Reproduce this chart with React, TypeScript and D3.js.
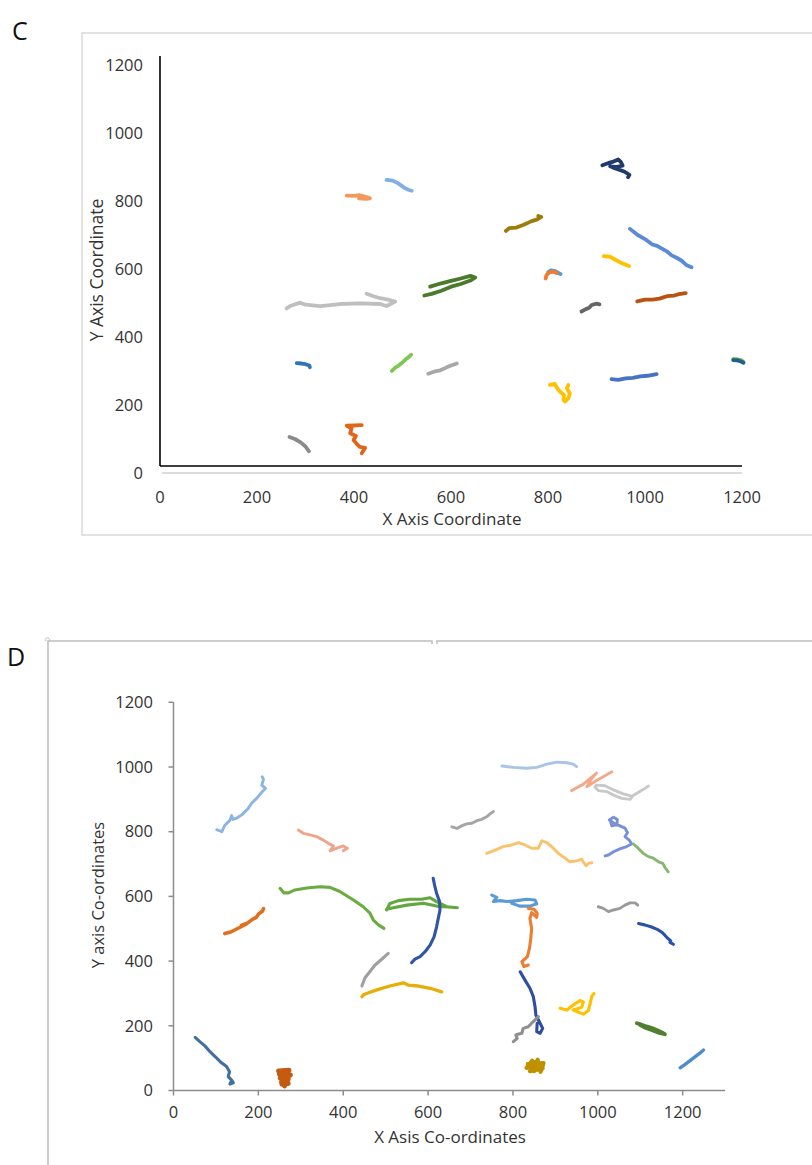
import React from "react";
import * as d3 from "d3";

type P = [number, number];

// ---------- Panel C data ----------
const cTicks = [0, 200, 400, 600, 800, 1000, 1200];
const cGrayBL: P[] = [[267,106],[278,100],[290,90],[300,78],[307,64]];
const cOrangeS: P[] = [[416,141],[385,139],[395,131],[392,117],[404,109],[399,97],[406,85],[412,77],[423,74],[416,58]];
const cBlueSmall: P[] = [[282,323],[292,322],[300,320],[308,316],[309,311]];
const cLightGreen: P[] = [[478,300],[485,310],[492,316],[500,325],[507,335],[512,340],[518,348]];
const cLightGrayLong: P[] = [[261,484],[270,492],[289,501],[300,495],[330,491],[371,497],[412,499],[454,497],[467,491],[485,504],[470,510],[454,514],[440,520],[426,527]];
const cOrangeTop: P[] = [[385,816],[400,815],[412,817],[422,813],[433,808],[425,806],[410,808]];
const cLightBlueTop: P[] = [[467,862],[480,860],[490,853],[497,846],[505,838],[512,833],[519,830]];
const cDarkGreen: P[] = [[545,522],[560,527],[580,536],[600,548],[620,556],[640,566],[650,575],[640,580],[620,572],[600,565],[580,558],[557,548]];
const cOlive: P[] = [[713,712],[720,720],[735,722],[750,730],[765,740],[778,746],[786,753],[780,756]];
const cBlueBit: P[] = [[800,590],[806,596],[815,594],[826,585]];
const cOrangeBit: P[] = [[818,588],[812,592],[803,590],[797,582],[795,572]];
const cDarkGray: P[] = [[869,475],[878,482],[885,486],[890,494],[900,498],[906,496]];
const cNavy: P[] = [[912,905],[925,912],[935,916],[945,922],[950,915],[954,904],[940,900],[928,902],[935,898],[945,893],[958,886],[968,877],[965,870]];
const cYellowA: P[] = [[915,638],[928,636],[938,628],[948,620],[958,614],[967,609]];
const cBlueWavy: P[] = [[969,718],[985,700],[1000,688],[1015,672],[1025,668],[1035,660],[1045,652],[1055,640],[1065,633],[1075,625],[1085,612],[1096,605]];
const cBrown: P[] = [[984,505],[1000,510],[1015,510],[1030,513],[1045,520],[1060,522],[1070,526],[1084,529]];
const cBlueLow: P[] = [[931,276],[945,274],[960,278],[975,280],[990,284],[1005,286],[1024,291]];
const cYellowV: P[] = [[804,259],[814,262],[819,249],[825,239],[833,229],[832,215],[835,210],[842,220],[845,234],[839,249],[842,259]];
const cGrayMid: P[] = [[553,292],[565,298],[578,302],[590,310],[600,316],[612,322]];
const cTealGreen: P[] = [[1182,335],[1190,334],[1198,331],[1203,327]];
const cTeal: P[] = [[1182,332],[1190,331],[1198,328],[1203,324]];

const panelC = [
  { pts: cGrayBL, color: "#8a8a8a" },
  { pts: cOrangeS, color: "#e2661a" },
  { pts: cBlueSmall, color: "#2e75b6" },
  { pts: cLightGreen, color: "#80c652" },
  { pts: cLightGrayLong, color: "#bfbfbf" },
  { pts: cOrangeTop, color: "#f29a5c" },
  { pts: cLightBlueTop, color: "#7fb0e0" },
  { pts: cDarkGreen, color: "#4a7a2b" },
  { pts: cOlive, color: "#9e7c0c" },
  { pts: cBlueBit, color: "#5b9bd5" },
  { pts: cOrangeBit, color: "#ed7d31" },
  { pts: cDarkGray, color: "#666666" },
  { pts: cNavy, color: "#203a6e" },
  { pts: cYellowA, color: "#ffc000" },
  { pts: cBlueWavy, color: "#5b8bd8" },
  { pts: cBrown, color: "#b9530f" },
  { pts: cBlueLow, color: "#4472c4" },
  { pts: cYellowV, color: "#ffc000" },
  { pts: cGrayMid, color: "#a8a8a8" },
  { pts: cTealGreen, color: "#5fae3a" },
  { pts: cTeal, color: "#1f5f8f" },
];

// ---------- Panel D data ----------
const dTicks = [0, 200, 400, 600, 800, 1000, 1200];
const dLightBlueTL: P[] = [[102,806],[114,800],[121,820],[133,835],[137,850],[140,838],[150,843],[161,852],[176,872],[184,888],[196,903],[208,922],[217,934],[208,944],[212,962],[209,970]];
const dSalmonTL: P[] = [[294,805],[306,795],[322,790],[337,785],[353,774],[365,764],[377,756],[369,741],[385,749],[400,756],[410,749],[400,741]];
const dGreenArc: P[] = [[251,625],[260,611],[271,611],[286,620],[314,626],[345,630],[369,628],[392,615],[424,589],[447,568],[463,548],[471,527],[483,512],[496,501]];
const dOrangeL: P[] = [[121,485],[135,490],[150,500],[165,510],[172,515],[160,510],[175,518],[185,528],[195,535],[200,545],[210,555],[212,562]];
const dGreenLoop: P[] = [[502,558],[510,578],[530,587],[557,591],[585,591],[604,596],[620,584],[644,568],[669,565],[640,568],[628,568],[589,579],[550,573],[518,565],[502,560]];
const dBlueTall: P[] = [[612,656],[616,630],[620,610],[627,584],[628,558],[624,532],[620,506],[614,475],[605,450],[593,429],[581,414],[569,406],[561,395]];
const dGrayShort: P[] = [[506,424],[490,405],[475,388],[463,368],[451,348],[444,323]];
const dYellowArc: P[] = [[444,290],[448,296],[455,300],[479,311],[510,323],[542,333],[553,326],[577,323],[605,316],[632,305]];
const dBlueLoop: P[] = [[750,604],[762,597],[754,584],[770,587],[785,584],[809,587],[832,591],[852,589],[856,577],[840,570],[816,570],[797,579]];
const dOrangeVert: P[] = [[836,563],[850,560],[857,548],[856,535],[844,550],[840,532],[844,501],[842,470],[839,440],[834,414],[821,398],[826,383],[836,388]];
const dBlueVert2: P[] = [[817,367],[828,342],[840,316],[848,290],[852,259],[854,233],[864,208],[870,192],[864,177],[856,182],[857,208]];
const dGrayZig: P[] = [[801,151],[810,161],[807,172],[821,177],[824,192],[836,197],[844,208],[852,218],[860,228]];
const dGoldStar: P[] = [[832,70],[845,92],[850,60],[858,95],[865,58],[872,85],[835,82],[870,68],[840,60],[855,80],[845,70],[868,78],[850,88],[838,72]];
const dYellowTri: P[] = [[911,254],[927,249],[942,264],[958,278],[966,274],[962,257],[942,249],[966,236],[978,247],[982,270],[986,292],[991,300]];
const dDarkGreenBlob: P[] = [[1092,208],[1100,205],[1110,200],[1120,196],[1130,192],[1140,186],[1150,180],[1158,174],[1145,178],[1125,188],[1110,195],[1098,204]];
const dBlueBR: P[] = [[1194,70],[1205,80],[1215,90],[1225,100],[1235,110],[1243,118],[1249,125]];
const dBlueUR: P[] = [[1096,516],[1110,512],[1125,506],[1140,498],[1150,490],[1158,480],[1165,470],[1172,462],[1170,458],[1178,452]];
const dSteelBL: P[] = [[51,164],[62,151],[74,138],[86,120],[98,105],[110,89],[125,74],[132,58],[129,43],[137,32],[141,24],[133,20],[136,28]];
const dBrownBlob: P[] = [[248,60],[272,62],[250,50],[275,48],[252,38],[270,35],[255,25],[262,15],[258,30],[268,45],[252,60],[262,52],[256,20],[270,22]];
const dLightBlueTop: P[] = [[774,1003],[801,999],[832,996],[856,999],[880,1009],[903,1015],[927,1013],[942,1009],[950,1001]];
const dSalmonTop: P[] = [[938,927],[966,947],[997,981],[986,965],[974,939],[997,958],[1033,985]];
const dLightGrayLoop: P[] = [[1080,910],[1060,917],[1037,929],[1017,942],[996,944],[993,938],[1001,927],[1021,924],[1037,913],[1056,903],[1076,900],[1084,913],[1099,924],[1111,934],[1119,941]];
const dGrayUpper: P[] = [[656,815],[668,810],[679,818],[691,824],[703,826],[715,834],[726,838],[738,846],[746,855],[754,862]];
const dLightOrange: P[] = [[738,733],[758,743],[777,754],[797,759],[813,766],[828,759],[844,749],[860,749],[868,772],[880,766],[895,749],[907,733],[923,718],[934,707],[950,710],[962,715],[968,702],[972,695],[978,702],[986,704]];
const dPeriwinkle: P[] = [[1030,831],[1033,818],[1045,821],[1046,838],[1037,845],[1027,836],[1040,825],[1052,818],[1064,811],[1070,797],[1064,785],[1074,774],[1080,762],[1068,754],[1052,747],[1037,738],[1025,728],[1017,725]];
const dGreenRight: P[] = [[1084,762],[1095,749],[1107,733],[1119,723],[1131,718],[1143,707],[1153,702],[1158,690],[1166,676]];
const dGrayRight: P[] = [[1001,568],[1013,563],[1025,553],[1037,558],[1052,563],[1064,573],[1076,580],[1088,580],[1094,573]];

const panelD = [
  { pts: dLightBlueTL, color: "#8db4e2", w: 2.9 },
  { pts: dSalmonTL, color: "#f0a58a", w: 2.9 },
  { pts: dGreenArc, color: "#6aac42", w: 3.1 },
  { pts: dOrangeL, color: "#e07020", w: 3.6 },
  { pts: dGreenLoop, color: "#62a83e", w: 3.1 },
  { pts: dBlueTall, color: "#2f55a4", w: 3.1 },
  { pts: dGrayShort, color: "#a0a0a0", w: 3.1 },
  { pts: dYellowArc, color: "#e6ae08", w: 3.3 },
  { pts: dBlueLoop, color: "#5b9bd5", w: 3.1 },
  { pts: dOrangeVert, color: "#ed7d31", w: 3.1 },
  { pts: dBlueVert2, color: "#2e4fa0", w: 3.1 },
  { pts: dGrayZig, color: "#8f8f8f", w: 3.1 },
  { pts: dGoldStar, color: "#bf9000", w: 4.2 },
  { pts: dYellowTri, color: "#ffc000", w: 3.1 },
  { pts: dDarkGreenBlob, color: "#4f7f2f", w: 3.8 },
  { pts: dBlueBR, color: "#4f8ccc", w: 3.4 },
  { pts: dBlueUR, color: "#2a52a8", w: 3.1 },
  { pts: dSteelBL, color: "#41719c", w: 3.1 },
  { pts: dBrownBlob, color: "#c55a11", w: 5.2 },
  { pts: dLightBlueTop, color: "#a8c4e8", w: 2.9 },
  { pts: dSalmonTop, color: "#f2a98a", w: 2.9 },
  { pts: dLightGrayLoop, color: "#c8c8c8", w: 2.9 },
  { pts: dGrayUpper, color: "#a5a5a5", w: 2.9 },
  { pts: dLightOrange, color: "#fbc26c", w: 2.9 },
  { pts: dPeriwinkle, color: "#7890d8", w: 2.9 },
  { pts: dGreenRight, color: "#86b870", w: 2.9 },
  { pts: dGrayRight, color: "#9a9a9a", w: 2.9 },
];

const FONT = "'Open Sans', 'Liberation Sans', sans-serif";

export default function App() {
  // Panel C scales
  const xC = d3.scaleLinear().domain([0, 1200]).range([160, 742]);
  const yC = d3.scaleLinear().domain([0, 1200]).range([473, 65]);
  // Panel D scales
  const xD = d3.scaleLinear().domain([0, 1200]).range([173.5, 682.7]);
  const yD = d3.scaleLinear().domain([0, 1200]).range([1090.5, 702.3]);

  const lineC = d3.line<P>().x((d) => xC(d[0])).y((d) => yC(d[1]));
  const lineD = d3.line<P>().x((d) => xD(d[0])).y((d) => yD(d[1]));

  const cAxisY = 466;
  const dAxisX = xD(0);
  const dAxisY = yD(0);

  return (
    <svg
      width={812}
      height={1165}
      style={{ position: "absolute", left: 0, top: 0, background: "#fff" }}
      fontFamily={FONT}
    >
      <rect x={0} y={0} width={812} height={1165} fill="#fff" />

      {/* ---------- Panel C ---------- */}
      <text x={12} y={40} fontSize={25} fill="#111">C</text>
      <path d="M812,33 H82 V535 H812" fill="none" stroke="#d9d9d9" strokeWidth={1.5} />

      <line x1={xC(0)} x2={xC(0)} y1={56} y2={cAxisY} stroke="#000" strokeWidth={1.6} />
      <line x1={xC(0)} x2={xC(1200)} y1={cAxisY} y2={cAxisY} stroke="#000" strokeWidth={1.6} />
      <line x1={xC(0) + 2} x2={xC(1200)} y1={cAxisY + 7} y2={cAxisY + 7} stroke="#dcdcdc" strokeWidth={2} />

      {cTicks.map((t) => (
        <text key={"cy" + t} x={143} y={yC(t)} dy="0.35em" textAnchor="end" fontSize={16.5} fill="#333">
          {t}
        </text>
      ))}
      {cTicks.map((t) => (
        <text key={"cx" + t} x={xC(t)} y={497} dy="0.35em" textAnchor="middle" fontSize={16.5} fill="#333">
          {t}
        </text>
      ))}
      <text x={452} y={519} dy="0.35em" textAnchor="middle" fontSize={17} fill="#333">
        X Axis Coordinate
      </text>
      <text
        transform={`translate(97,270) rotate(-90)`}
        dy="0.35em"
        textAnchor="middle"
        fontSize={17.5}
        fill="#333"
      >
        Y Axis Coordinate
      </text>

      {panelC.map((t, i) => (
        <path
          key={"ct" + i}
          d={lineC(t.pts) || ""}
          fill="none"
          stroke={t.color}
          strokeWidth={3.8}
          strokeLinejoin="round"
          strokeLinecap="round"
        />
      ))}

      {/* ---------- Panel D ---------- */}
      <text x={7} y={666} fontSize={25} fill="#111">D</text>
      <path d="M48,1165 V641 H432 v3" fill="none" stroke="#bdbdbd" strokeWidth={1.5} />
      <path d="M437,644 v-3 H812" fill="none" stroke="#bdbdbd" strokeWidth={1.5} />
      <path d="M46,641 a2,2 0 1 1 3,0" fill="none" stroke="#bdbdbd" strokeWidth={1} />

      <line x1={dAxisX} x2={dAxisX} y1={yD(1200)} y2={dAxisY} stroke="#8c8c8c" strokeWidth={1.5} />
      <line x1={dAxisX} x2={xD(1300)} y1={dAxisY} y2={dAxisY} stroke="#8c8c8c" strokeWidth={1.5} />
      {dTicks.map((t) => (
        <line key={"dyt" + t} x1={dAxisX - 5} x2={dAxisX} y1={yD(t)} y2={yD(t)} stroke="#8c8c8c" strokeWidth={1.5} />
      ))}
      {dTicks.map((t) => (
        <line key={"dxt" + t} x1={xD(t)} x2={xD(t)} y1={dAxisY} y2={dAxisY + 5} stroke="#8c8c8c" strokeWidth={1.5} />
      ))}
      {dTicks.map((t) => (
        <text key={"dy" + t} x={153} y={yD(t)} dy="0.35em" textAnchor="end" fontSize={16.5} fill="#333">
          {t}
        </text>
      ))}
      {dTicks.map((t) => (
        <text key={"dx" + t} x={xD(t)} y={1112} dy="0.35em" textAnchor="middle" fontSize={16.5} fill="#333">
          {t}
        </text>
      ))}
      <text x={450} y={1137} dy="0.35em" textAnchor="middle" fontSize={17} fill="#333">
        X Asis Co-ordinates
      </text>
      <text
        transform={`translate(98,895) rotate(-90)`}
        dy="0.35em"
        textAnchor="middle"
        fontSize={16.5}
        fill="#333"
      >
        Y axis Co-ordinates
      </text>

      {panelD.map((t, i) => (
        <path
          key={"dt" + i}
          d={lineD(t.pts) || ""}
          fill="none"
          stroke={t.color}
          strokeWidth={t.w}
          strokeLinejoin="round"
          strokeLinecap="round"
        />
      ))}
    </svg>
  );
}
